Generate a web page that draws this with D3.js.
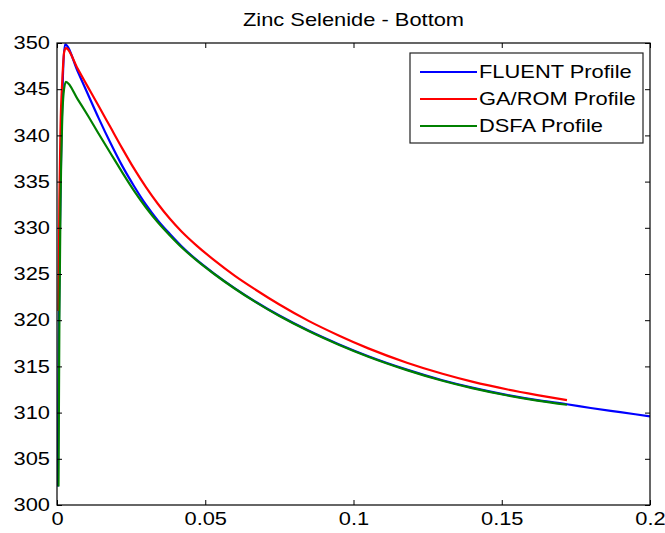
<!DOCTYPE html>
<html><head><meta charset="utf-8">
<script src="https://cdn.jsdelivr.net/npm/d3@7"></script>
<style>
body{margin:0;background:#fff}
svg{display:block}
text{font-family:"Liberation Sans",Arial,Helvetica,sans-serif;fill:#000}
</style></head>
<body><svg id="chart" width="665" height="533"></svg>
<script>
const chartTitle = "Zinc Selenide - Bottom";
const seriesNames = ["FLUENT Profile", "GA/ROM Profile", "DSFA Profile"];
const seriesColors = ["#0000ff", "#ff0000", "#008000"];

const fluentX = [0.0003, 0.0006, 0.001, 0.0015, 0.002, 0.0027, 0.007, 0.0105, 0.014, 0.018, 0.022, 0.026, 0.030, 0.034, 0.038, 0.042, 0.047, 0.053, 0.060, 0.067, 0.075, 0.085, 0.095, 0.105, 0.118, 0.13, 0.14, 0.152, 0.162, 0.172, 0.18, 0.19, 0.2];
const fluentY = [302, 318, 330, 340, 346.5, 349.85, 346.9, 344.4, 341.9, 339.2, 336.7, 334.5, 332.5, 330.8, 329.35, 328.0, 326.55, 325.05, 323.45, 322.0, 320.5, 318.85, 317.4, 316.1, 314.65, 313.5, 312.7, 311.9, 311.35, 310.9, 310.5, 310.05, 309.6];

const gaX = [0.0005, 0.0008, 0.0012, 0.0018, 0.0024, 0.003, 0.007, 0.0105, 0.014, 0.018, 0.022, 0.026, 0.030, 0.034, 0.038, 0.042, 0.047, 0.053, 0.060, 0.067, 0.075, 0.085, 0.095, 0.105, 0.118, 0.13, 0.14, 0.152, 0.162, 0.172];
const gaY = [321, 333, 341, 346, 349, 349.45, 347.2, 345.2, 343.2, 340.9, 338.6, 336.4, 334.4, 332.6, 331.0, 329.6, 328.1, 326.5, 324.8, 323.3, 321.7, 319.9, 318.35, 316.95, 315.4, 314.2, 313.35, 312.5, 311.9, 311.35];

const dsfaX = [0.0005, 0.0008, 0.0012, 0.0017, 0.0022, 0.003, 0.007, 0.0105, 0.014, 0.018, 0.022, 0.026, 0.030, 0.034, 0.038, 0.042, 0.047, 0.053, 0.060, 0.067, 0.075, 0.085, 0.095, 0.105, 0.118, 0.13, 0.14, 0.152, 0.162, 0.172];
const dsfaY = [302, 320, 333, 341, 344.5, 345.8, 343.9, 342.1, 340.2, 338.1, 336.0, 334.0, 332.2, 330.6, 329.2, 327.9, 326.5, 325.0, 323.4, 321.95, 320.45, 318.8, 317.35, 316.05, 314.6, 313.45, 312.65, 311.85, 311.3, 310.85];

const xTicks = [0, 0.05, 0.1, 0.15, 0.2];
const xTickLabels = ["0", "0.05", "0.1", "0.15", "0.2"];
const yTicks = [300, 305, 310, 315, 320, 325, 330, 335, 340, 345, 350];
const yTickLabels = ["300", "305", "310", "315", "320", "325", "330", "335", "340", "345", "350"];

const W = 665, H = 533;
const M = {left: 57, right: 15, top: 43, bottom: 28};
const SX = 1.25;       // horizontal text stretch seen in the reference
const FS = 17.5;

const svg = d3.select("#chart");
const x = d3.scaleLinear().domain([0, 0.2]).range([M.left, W - M.right]);
const y = d3.scaleLinear().domain([300, 350]).range([H - M.bottom, M.top]);

svg.append("rect").attr("width", W).attr("height", H).attr("fill", "#fff");

svg.append("defs").append("clipPath").attr("id", "clip")
  .append("rect").attr("x", M.left).attr("y", M.top)
  .attr("width", x.range()[1] - M.left).attr("height", y.range()[0] - M.top);

// series
const series = [
  {name: seriesNames[0], xs: fluentX, ys: fluentY, color: seriesColors[0]},
  {name: seriesNames[1], xs: gaX, ys: gaY, color: seriesColors[1]},
  {name: seriesNames[2], xs: dsfaX, ys: dsfaY, color: seriesColors[2]}
];
const line = d3.line().x(d => x(d[0])).y(d => y(d[1])).curve(d3.curveMonotoneX);
const gLines = svg.append("g").attr("clip-path", "url(#clip)");
series.forEach(s => {
  gLines.append("path")
    .datum(s.xs.map((v, i) => [v, s.ys[i]]))
    .attr("fill", "none").attr("stroke", s.color)
    .attr("stroke-width", 2.2).attr("stroke-linejoin", "round")
    .attr("d", line);
});

function styleAxis(g, labels) {
  g.select(".domain").remove();
  g.selectAll(".tick line").attr("stroke", "#000").attr("stroke-width", 1);
  if (labels) {
    g.selectAll(".tick text").attr("font-size", FS).attr("fill", "#000")
      .attr("font-family", "'Liberation Sans', Arial, sans-serif")
      .each(function() {
        const t = d3.select(this);
        const xv = +t.attr("x") || 0;
        t.attr("x", xv / SX).attr("transform", `scale(${SX},1)`);
      });
  }
}

// bottom axis
svg.append("g").attr("transform", `translate(0,${y(300)})`)
  .call(d3.axisBottom(x).tickValues(xTicks).tickFormat((d, i) => xTickLabels[i])
        .tickSizeInner(-5).tickSizeOuter(0).tickPadding(8))
  .call(g => styleAxis(g, true));
// top axis (ticks only)
svg.append("g").attr("transform", `translate(0,${y(350)})`)
  .call(d3.axisTop(x).tickValues(xTicks).tickFormat("").tickSizeInner(-5).tickSizeOuter(0))
  .call(g => styleAxis(g, false));
// left axis
svg.append("g").attr("transform", `translate(${x(0)},0)`)
  .call(d3.axisLeft(y).tickValues(yTicks).tickFormat((d, i) => yTickLabels[i])
        .tickSizeInner(-5).tickSizeOuter(0).tickPadding(7))
  .call(g => styleAxis(g, true));
// right axis (ticks only)
svg.append("g").attr("transform", `translate(${x(0.2)},0)`)
  .call(d3.axisRight(y).tickValues(yTicks).tickFormat("").tickSizeInner(-5).tickSizeOuter(0))
  .call(g => styleAxis(g, false));

// frame
svg.append("rect").attr("x", x(0)).attr("y", y(350))
  .attr("width", x(0.2) - x(0)).attr("height", y(300) - y(350))
  .attr("fill", "none").attr("stroke", "#000").attr("stroke-width", 1.2);

// title
svg.append("text").attr("text-anchor", "middle").attr("font-size", FS)
  .attr("transform", `translate(${(x(0) + x(0.2)) / 2},26) scale(${SX},1)`)
  .text(chartTitle);

// legend
const lg = svg.append("g");
lg.append("rect").attr("x", 410).attr("y", 53).attr("width", 233).attr("height", 90)
  .attr("fill", "#fff").attr("stroke", "#222").attr("stroke-width", 1.2);
series.forEach((s, i) => {
  const ly = 72 + i * 27;
  lg.append("line").attr("x1", 420).attr("x2", 477).attr("y1", ly).attr("y2", ly)
    .attr("stroke", s.color).attr("stroke-width", 2.2);
  lg.append("text").attr("font-size", FS).attr("dy", "0.35em")
    .attr("transform", `translate(479,${ly}) scale(${SX},1)`)
    .text(s.name);
});
</script></body></html>
